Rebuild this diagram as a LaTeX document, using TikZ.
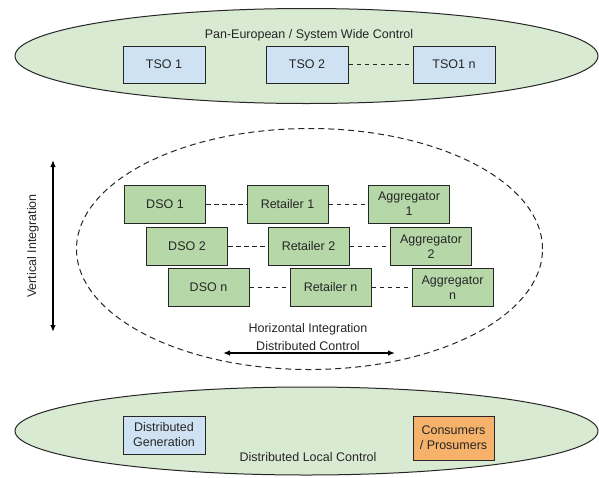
\documentclass[tikz,border=0pt]{standalone}
\usepackage{fontspec}
\setmainfont{Liberation Sans}
\usetikzlibrary{shapes, arrows.meta, positioning}
\definecolor{levelgreen}{HTML}{D9EAD3}
\definecolor{tsoblue}{HTML}{CFE2F3}
\definecolor{dsogreen}{HTML}{B6D7A8}
\definecolor{prosorange}{HTML}{F6B26B}
\tikzset{
    actor/.style={draw=black!85, line width=1pt, minimum width=81pt, minimum height=38pt, inner sep=2pt, align=center},
    link/.style={line width=1pt, dash pattern=on 4.5pt off 3.5pt},
    axis/.style={{Latex[length=7pt, width=5.5pt]}-{Latex[length=7pt, width=5.5pt]}, line width=1.3pt, color=black},
}

\begin{document}
\begin{tikzpicture}[x=1pt, y=-1pt, font=\fontsize{12.5}{15}\selectfont, color=black!85]
    \useasboundingbox (0,0) rectangle (599,477);

    % control levels
    \draw [fill=levelgreen, line width=1pt] (306.5,56) ellipse [x radius=291.5pt, y radius=47.5pt];
    \draw [fill=levelgreen, line width=1pt] (306.5,431) ellipse [x radius=291.5pt, y radius=44pt];
    \draw [line width=1pt, dash pattern=on 6pt off 4pt] (309.5,249) ellipse [x radius=233pt, y radius=120.5pt];

    \node (Ltop) at (309,35) {Pan-European / System Wide Control};
    \node (Lbot) at (308,457) {Distributed Local Control};

    \node [actor, fill=tsoblue, minimum width=82pt, minimum height=37pt] (T1) at (164,64.5) {TSO 1};
    \node [actor, fill=tsoblue, minimum width=82pt, minimum height=37pt] (T2) at (307,64.5) {TSO 2};
    \node [actor, fill=tsoblue, minimum width=82pt, minimum height=37pt] (Tn) at (454,64.5) {TSO1 n};
    \draw [link] (T2) -- (Tn);

    \node [actor, fill=dsogreen] (D1) at (165,204) {DSO 1};
    \node [actor, fill=dsogreen] (R1) at (287.5,204) {Retailer 1};
    \node [actor, fill=dsogreen] (A1) at (409,204) {Aggregator\\1};
    \node [actor, fill=dsogreen] (D2) at (187,246.5) {DSO 2};
    \node [actor, fill=dsogreen] (R2) at (308.5,246.5) {Retailer 2};
    \node [actor, fill=dsogreen] (A2) at (431,246.5) {Aggregator\\2};
    \node [actor, fill=dsogreen] (Dn) at (208.5,287.5) {DSO n};
    \node [actor, fill=dsogreen] (Rn) at (330.5,287.5) {Retailer n};
    \node [actor, fill=dsogreen] (An) at (452.5,287.5) {Aggregator\\n};

    \draw [link] (D1) -- (R1);
    \draw [link] (R1) -- (A1);
    \draw [link] (D2) -- (R2);
    \draw [link] (R2) -- (A2);
    \draw [link] (Dn) -- (Rn);
    \draw [link] (Rn) -- (An);

    \node [actor, fill=tsoblue, minimum width=82pt] (DG) at (164,435) {Distributed\\Generation};
    \node [actor, fill=prosorange, minimum height=44pt] (CP) at (453.5,438) {Consumers\\/ Prosumers};

    % integration axes
    \coordinate (Vtop) at (53,160);
    \coordinate (Vbot) at (53,332);
    \draw [axis] (Vtop) -- (Vbot);
    \node [rotate=90] (Lvert) at (33,246) {Vertical Integration};

    \coordinate (Hleft) at (223,353);
    \coordinate (Hright) at (395,353);
    \draw [axis] (Hleft) -- (Hright);
    \node (Lhor) at (308,329) {Horizontal Integration};
    \node (Ldist) at (308,346) {Distributed Control};
\end{tikzpicture}
\end{document}
